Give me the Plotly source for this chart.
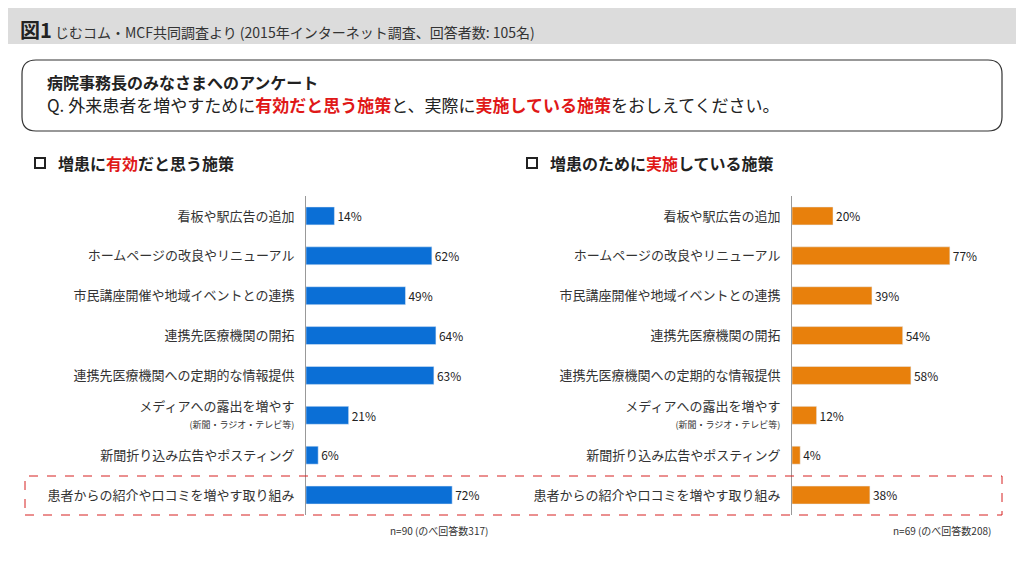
import plotly.graph_objects as go

categories = ["看板や駅広告の追加", "ホームページの改良やリニューアル", "市民講座開催や地域イベントとの連携",
              "連携先医療機関の開拓", "連携先医療機関への定期的な情報提供",
              "メディアへの露出を増やす<br><span style='font-size:9px'>(新聞・ラジオ・テレビ等)</span>",
              "新聞折り込み広告やポスティング", "患者からの紹介や口コミを増やす取り組み"]
effective = [14, 62, 49, 64, 63, 21, 6, 72]
implemented = [20, 77, 39, 54, 58, 12, 4, 38]

W, H = 1024, 563
OFF = 8  # page body margin
font = "Noto Sans CJK JP"
fig = go.Figure()
fig.add_trace(go.Bar(y=categories, x=effective, orientation="h", marker_color="#0b6fd6", width=0.45,
                     text=[f"{v}%" for v in effective], textposition="outside",
                     textfont=dict(size=16, color="#222"), cliponaxis=False, xaxis="x", yaxis="y"))
fig.add_trace(go.Bar(y=categories, x=implemented, orientation="h", marker_color="#e8800c", width=0.45,
                     text=[f"{v}%" for v in implemented], textposition="outside",
                     textfont=dict(size=16, color="#222"), cliponaxis=False, xaxis="x2", yaxis="y2"))

def px(x): return (x - OFF) / W
def py(y): return 1 - (y - OFF) / H

ax = dict(range=[0, 100], showgrid=False, showticklabels=False, zeroline=False)
yx = dict(autorange="reversed", showline=True, linecolor="#999", linewidth=1, ticks="",
          tickfont=dict(size=13, color="#333"), ticklabelstandoff=8, domain=[py(515), py(196)])
fig.update_layout(
    width=W, height=H, margin=dict(l=0, r=0, t=0, b=0), showlegend=False,
    plot_bgcolor="white", paper_bgcolor="white", font=dict(family=font, color="#222"),
    xaxis=dict(ax, domain=[px(306), px(509)]),
    xaxis2=dict(ax, domain=[px(792), px(997)], anchor="y2"),
    yaxis=dict(yx, anchor="x"),
    yaxis2=dict(yx, anchor="x2"),
)

shapes = [
    dict(type="rect", xref="paper", yref="paper", x0=0, x1=1, y0=py(44), y1=1,
         fillcolor="#dcdcdc", line_width=0, layer="below"),
    dict(type="path", xref="paper", yref="paper", line=dict(color="#333", width=1.2),
         path=f"M {px(36)} {py(60)} L {px(988)} {py(60)} Q {px(1002)} {py(60)} {px(1002)} {py(74)} "
              f"L {px(1002)} {py(117)} Q {px(1002)} {py(131)} {px(988)} {py(131)} "
              f"L {px(36)} {py(131)} Q {px(22)} {py(131)} {px(22)} {py(117)} "
              f"L {px(22)} {py(74)} Q {px(22)} {py(60)} {px(36)} {py(60)} Z"),
    dict(type="rect", xref="paper", yref="paper", x0=px(25), x1=px(1002), y0=py(515), y1=py(476),
         line=dict(color="#d62020", width=1, dash="dash")),
    dict(type="rect", xref="paper", yref="paper", x0=px(35), x1=px(45), y0=py(168), y1=py(158),
         line=dict(color="#222", width=2)),
    dict(type="rect", xref="paper", yref="paper", x0=px(527), x1=px(537), y0=py(168), y1=py(158),
         line=dict(color="#222", width=2)),
]
red = "color:#e01818"
annots = [
    (18, 30, "<b style='font-size:20px'>図1</b> <span style='font-size:14px;color:#333'>じむコム・MCF共同調査より (2015年インターネット調査、回答者数: 105名)</span>", 14),
    (45, 82, "<b>病院事務長のみなさまへのアンケート</b>", 16),
    (45, 104, f"Q. 外来患者を増やすために<b style='{red}'>有効だと思う施策</b>と、実際に<b style='{red}'>実施している施策</b>をおしえてください。", 17),
    (56, 163, f"<b>増患に<span style='{red}'>有効</span>だと思う施策</b>", 16),
    (548, 163, f"<b>増患のために<span style='{red}'>実施</span>している施策</b>", 16),
]
for x, y, t, s in annots:
    fig.add_annotation(x=px(x), y=py(y), xref="paper", yref="paper", text=t, showarrow=False,
                       xanchor="left", yanchor="middle", font=dict(size=s, color="#222"))
for x, t in [(490, "n=90 (のべ回答数317)"), (993, "n=69 (のべ回答数208)")]:
    fig.add_annotation(x=px(x), y=py(530), xref="paper", yref="paper", text=t, showarrow=False,
                       xanchor="right", yanchor="middle", font=dict(size=10, color="#333"))
fig.update_layout(shapes=shapes)
fig.write_html("out.html")
